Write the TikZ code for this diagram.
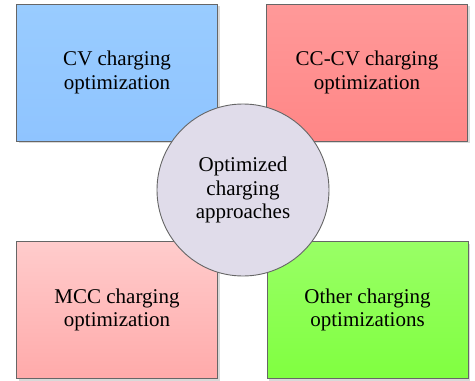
\documentclass[tikz,border=0pt]{standalone}
\usepackage{fontspec}
\newfontfamily\timesfont{Liberation Serif}
\usetikzlibrary{shadows}

\begin{document}
\begin{tikzpicture}[x=1pt,y=-1pt,
  rect node/.style={rectangle,draw=black!60,line width=0.9pt,minimum width=201pt,minimum height=137pt,
    align=center,font=\timesfont\fontsize{21}{23.5}\selectfont,
    drop shadow={shadow xshift=2pt,shadow yshift=-2pt,fill=black!25,opacity=0.6}},
  main node/.style={circle,draw=black!60,line width=0.9pt,fill=lavender,minimum size=172pt,inner sep=0pt,
    align=center,font=\timesfont\fontsize{21}{23.5}\selectfont}]

  \definecolor{lavender}{HTML}{E0DCEA}
  \useasboundingbox (0,0) rectangle (475,381);

  \node[rect node,top color={rgb,255:red,153;green,204;blue,255},bottom color={rgb,255:red,143;green,196;blue,255}] (cv) at (117,72.5) {CV charging\\optimization};
  \node[rect node,top color={rgb,255:red,255;green,153;blue,153},bottom color={rgb,255:red,255;green,134;blue,134}] (cccv) at (367,72.5) {CC-CV charging\\optimization};
  \node[rect node,top color={rgb,255:red,255;green,204;blue,204},bottom color={rgb,255:red,255;green,170;blue,170}] (mcc) at (117,310) {MCC charging\\optimization};
  \node[rect node,top color={rgb,255:red,153;green,255;blue,102},bottom color={rgb,255:red,128;green,255;blue,64}] (other) at (367.5,310) {Other charging\\optimizations};

  \node[main node] (opt) at (243,190) {Optimized\\charging\\approaches};

\end{tikzpicture}
\end{document}
